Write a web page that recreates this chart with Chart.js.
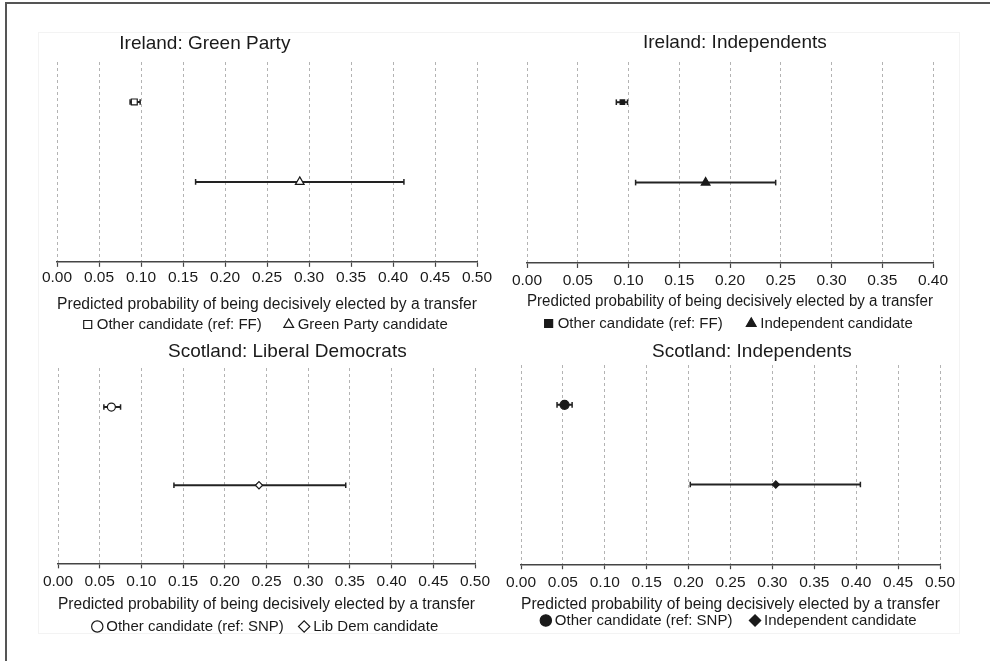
<!DOCTYPE html>
<html>
<head>
<meta charset="utf-8">
<script src="https://cdn.jsdelivr.net/npm/chart.js@4.4.1/dist/chart.umd.min.js"></script>
<style>
    html, body { margin: 0; padding: 0; background: #fff; }
    body { width: 990px; height: 661px; position: relative; overflow: hidden; }
    .frame { position: absolute; left: 5px; top: 2px; width: 990px; height: 670px; border-top: 2px solid #555; border-left: 2px solid #555; }
    .inner { position: absolute; left: 38px; top: 32px; width: 920px; height: 600px; border: 1px solid #f3f3f3; }
    canvas { position: absolute; }
</style>
</head>
<body>
<div class="frame"></div>
<div class="inner"></div>
<canvas id="panel-0" width="475" height="321" style="left:20px;top:21px"></canvas>
<canvas id="panel-1" width="470" height="321" style="left:500px;top:20px"></canvas>
<canvas id="panel-2" width="475" height="309" style="left:20px;top:335px"></canvas>
<canvas id="panel-3" width="470" height="303" style="left:500px;top:335px"></canvas>
<script>
// panels: Ireland GP, Ireland Ind, Scotland LD, Scotland Ind
const panelTitles = ['Ireland: Green Party', 'Ireland: Independents', 'Scotland: Liberal Democrats', 'Scotland: Independents'];
const axisMax = [0.5, 0.4, 0.5, 0.5];
const axisStep = 0.05;
const axisTitle = 'Predicted probability of being decisively elected by a transfer';

const otherLabels = ['Other candidate (ref: FF)', 'Other candidate (ref: FF)', 'Other candidate (ref: SNP)', 'Other candidate (ref: SNP)'];
const otherEst = [0.092, 0.094, 0.064, 0.052];
const otherLow = [0.087, 0.088, 0.055, 0.043];
const otherHigh = [0.099, 0.099, 0.075, 0.061];

const partyLabels = ['Green Party candidate', 'Independent candidate', 'Lib Dem candidate', 'Independent candidate'];
const partyEst = [0.289, 0.176, 0.241, 0.304];
const partyLow = [0.165, 0.107, 0.139, 0.202];
const partyHigh = [0.413, 0.245, 0.345, 0.405];

// row of each group on the hidden y scale (0..5)
const rowOther = 4;
const rowParty = 2;

Chart.defaults.font.family = '"Liberation Sans", Arial, sans-serif';
Chart.defaults.color = '#222';

const ink = '#1a1a1a';

// per panel look: markers, paddings, title placement
const panelStyle = [
    {
        other: { style: 'rect', radius: 4.2, fill: '#fff' },
        party: { style: 'triangle', radius: 5, fill: '#fff' },
        padding: { left: 37, right: 18, top: 41, bottom: 0 },
        tickPad: 2.5, titlePad: 7.5, legendPad: 4.6, legendGap: 5,
        titleX: 0.352, titleDy: -18.5,
    },
    {
        other: { style: 'rect', radius: 3.2, fill: ink },
        party: { style: 'triangle', radius: 5, fill: ink },
        padding: { left: 27, right: 37, top: 42, bottom: 0 },
        tickPad: 4.4, titlePad: 0, legendPad: 6.2, legendGap: 5,
        titleX: 0.512, titleDy: -19,
    },
    {
        other: { style: 'circle', radius: 4, fill: '#fff' },
        party: { style: 'rectRot', radius: 3.6, fill: '#fff' },
        padding: { left: 38, right: 19, top: 33, bottom: 0 },
        tickPad: 4.9, titlePad: 1.5, legendPad: 6.3, legendGap: 3,
        titleX: 0.55, titleDy: -16.5,
    },
    {
        other: { style: 'circle', radius: 4.5, fill: ink },
        party: { style: 'rectRot', radius: 3.6, fill: ink },
        padding: { left: 21, right: 30, top: 30, bottom: 0 },
        tickPad: 5.2, titlePad: 0, legendPad: 0.3, legendGap: 5,
        titleX: 0.551, titleDy: -13,
    },
];

const panelTitlePlugin = {
    id: 'panelTitle',
    afterDraw(chart, args, opts) {
        const { ctx, chartArea } = chart;
        ctx.save();
        ctx.font = '19px "Liberation Sans", Arial, sans-serif';
        ctx.fillStyle = ink;
        ctx.textAlign = 'center';
        ctx.textBaseline = 'middle';
        ctx.fillText(opts.text, chartArea.left + opts.xFrac * (chartArea.right - chartArea.left), chartArea.top + opts.dy);
        ctx.restore();
    },
};

function markerSet(label, x, y, m) {
    return {
        label,
        data: [{ x, y }],
        pointStyle: m.style,
        pointRadius: m.radius,
        pointHoverRadius: m.radius,
        pointBackgroundColor: m.fill,
        pointBorderColor: ink,
        pointBorderWidth: 1.2,
        order: 0,
    };
}

function intervalSet(low, high, y) {
    return {
        label: 'ci',
        data: [{ x: low, y }, { x: high, y }],
        showLine: true,
        borderColor: '#222',
        borderWidth: 2,
        pointStyle: 'line',
        pointRotation: 90,
        pointRadius: 2.8,
        pointHoverRadius: 2.8,
        pointBorderColor: '#222',
        pointBorderWidth: 1.5,
        order: 1,
    };
}

panelTitles.forEach((title, i) => {
    const canvas = document.getElementById('panel-' + i);
    const st = panelStyle[i];
    new Chart(canvas, {
        type: 'scatter',
        data: {
            datasets: [
                markerSet(otherLabels[i], otherEst[i], rowOther, st.other),
                markerSet(partyLabels[i], partyEst[i], rowParty, st.party),
                intervalSet(otherLow[i], otherHigh[i], rowOther),
                intervalSet(partyLow[i], partyHigh[i], rowParty),
            ],
        },
        options: {
            responsive: false,
            animation: false,
            layout: { padding: st.padding },
            plugins: {
                legend: {
                    position: 'bottom',
                    labels: {
                        usePointStyle: true,
                        boxWidth: 3,
                        boxHeight: 8,
                        padding: st.legendPad,
                        color: ink,
                        font: { size: 15 },
                        filter: (item) => item.datasetIndex < 2,
                        // wider gap after the first entry, as in the original figure
                        generateLabels: (chart) => {
                            const items = Chart.defaults.plugins.legend.labels.generateLabels(chart);
                            items[0].text += ' '.repeat(st.legendGap);
                            return items;
                        },
                    },
                },
                tooltip: { enabled: false },
                panelTitle: { text: title, xFrac: st.titleX, dy: st.titleDy },
            },
            scales: {
                x: {
                    type: 'linear',
                    min: 0,
                    max: axisMax[i],
                    ticks: {
                        stepSize: axisStep,
                        autoSkip: false,
                        maxRotation: 0,
                        padding: st.tickPad,
                        color: ink,
                        font: { size: 15.5, lineHeight: 1.1 },
                        callback: (v) => Number(v).toFixed(2),
                    },
                    grid: {
                        color: '#b3b3b3',
                        lineWidth: 1,
                        tickLength: 5,
                        tickColor: '#444',
                        tickWidth: 1.2,
                    },
                    border: { display: true, color: '#444', width: 1.5, dash: [3, 3] },
                    title: {
                        display: true,
                        text: axisTitle,
                        color: ink,
                        font: { size: 16, lineHeight: 1.0 },
                        padding: { top: st.titlePad, bottom: 0 },
                    },
                },
                y: {
                    type: 'linear',
                    display: false,
                    min: 0,
                    max: 5,
                },
            },
        },
        plugins: [panelTitlePlugin],
    });
});
</script>
</body>
</html>
